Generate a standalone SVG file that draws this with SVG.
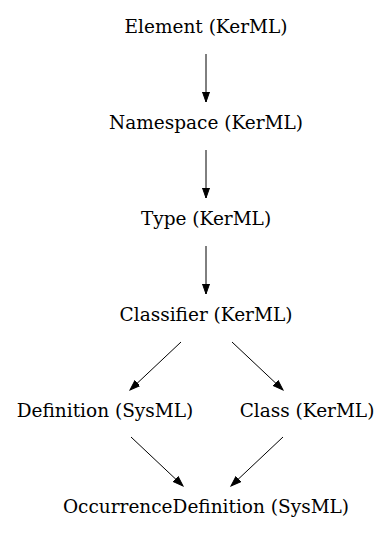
<svg xmlns="http://www.w3.org/2000/svg" width="392" height="539" viewBox="0 0 392 539">
<style>
text{font-family:"DejaVu Serif","Liberation Serif",serif;font-size:18.5px;fill:#000;text-anchor:middle}
.e{stroke:#000;stroke-width:1;fill:none;marker-end:url(#a)}
</style>
<defs>
<marker id="a" markerUnits="userSpaceOnUse" markerWidth="12" markerHeight="10" refX="10" refY="5" orient="auto">
<path d="M0,1.5L10,5L0,8.5Z" fill="#000" stroke="#000"/>
</marker>
</defs>
<rect width="392" height="539" fill="#fff"/>
<g id="element"><text x="206" y="33">Element (KerML)</text></g>
<g id="namespace"><text x="206" y="129">Namespace (KerML)</text></g>
<g id="type"><text x="206" y="225">Type (KerML)</text></g>
<g id="classifier"><text x="206" y="321">Classifier (KerML)</text></g>
<g id="definition"><text x="105" y="417">Definition (SysML)</text></g>
<g id="class"><text x="307" y="417">Class (KerML)</text></g>
<g id="occurrence"><text x="206" y="513">OccurrenceDefinition (SysML)</text></g>
<g id="edges">
<path class="e" d="M206,54L206,102"/>
<path class="e" d="M206,150L206,198"/>
<path class="e" d="M206,246L206,294"/>
<path class="e" d="M181,342L130,390"/>
<path class="e" d="M232,342L283,390"/>
<path class="e" d="M131,437L183,486"/>
<path class="e" d="M283,437L231,486"/>
</g>
</svg>
